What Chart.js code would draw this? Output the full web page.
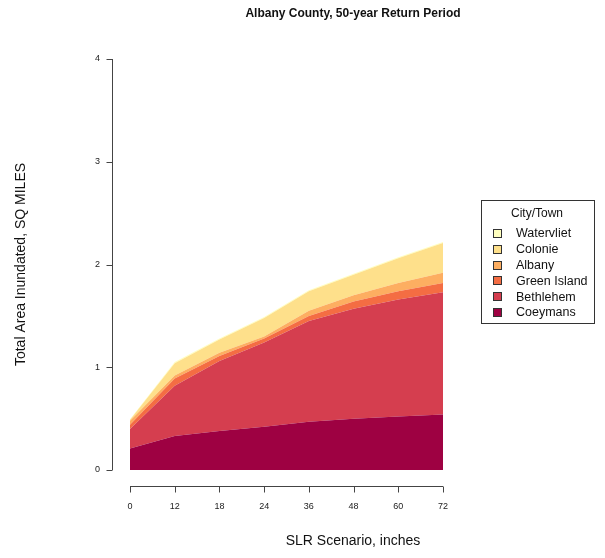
<!DOCTYPE html>
<html>
<head>
<meta charset="utf-8">
<script src="https://cdn.jsdelivr.net/npm/chart.js@4.4.1/dist/chart.umd.min.js"></script>
<style>
  html, body { margin: 0; padding: 0; background: #fff; }
  canvas { display: block; }
</style>
</head>
<body>
<canvas id="inundation" width="605" height="558"></canvas>
<script>
// SLR scenarios (inches) and inundated area per town, sq miles (stacked)
const scenarios = ['0', '12', '18', '24', '36', '48', '60', '72'];
const coeymans    = [0.21, 0.33, 0.38, 0.42, 0.47, 0.50, 0.52, 0.54];
const bethlehem   = [0.19, 0.49, 0.68, 0.82, 0.98, 1.07, 1.14, 1.19];
const greenIsland = [0.04, 0.07, 0.05, 0.04, 0.05, 0.07, 0.08, 0.09];
const albany      = [0.04, 0.03, 0.03, 0.02, 0.05, 0.06, 0.08, 0.10];
const colonie     = [0.01, 0.12, 0.13, 0.18, 0.19, 0.20, 0.24, 0.29];
const watervliet  = [0.005, 0.01, 0.01, 0.01, 0.01, 0.01, 0.01, 0.01];
const yTicks = [0, 1, 2, 3, 4];

const FONT = "'Liberation Sans', Arial, Helvetica, sans-serif";

function area(label, data, color, fill) {
  return {
    label: label,
    data: data,
    backgroundColor: color,
    borderColor: color,
    borderWidth: 0,
    pointRadius: 0,
    tension: 0,
    fill: fill
  };
}

// R-style detached axes drawn from the chart's own scales
const detachedAxes = {
  id: 'detachedAxes',
  afterDraw(chart) {
    const ctx = chart.ctx;
    const xs = chart.scales.x, ys = chart.scales.y;
    ctx.save();
    ctx.strokeStyle = '#444';
    ctx.lineWidth = 1;

    // y axis
    const ax = chart.chartArea.left - 17.5;
    ctx.beginPath();
    ctx.moveTo(ax, ys.getPixelForValue(yTicks[0]));
    ctx.lineTo(ax, ys.getPixelForValue(yTicks[yTicks.length - 1]));
    yTicks.forEach(v => {
      const py = Math.round(ys.getPixelForValue(v)) + 0.5;
      ctx.moveTo(ax, py);
      ctx.lineTo(ax - 6, py);
    });
    ctx.stroke();

    // x axis
    const ay = chart.chartArea.bottom + 16.5;
    ctx.beginPath();
    ctx.moveTo(xs.getPixelForValue(0), ay);
    ctx.lineTo(xs.getPixelForValue(scenarios.length - 1), ay);
    scenarios.forEach((s, i) => {
      const px = Math.round(xs.getPixelForValue(i)) + 0.5;
      ctx.moveTo(px, ay);
      ctx.lineTo(px, ay + 6);
    });
    ctx.stroke();

    // titles
    ctx.fillStyle = '#111';
    ctx.textAlign = 'center';
    ctx.textBaseline = 'middle';
    ctx.font = 'bold 12px ' + FONT;
    ctx.fillText('Albany County, 50-year Return Period', 353, 14);
    ctx.font = '14px ' + FONT;
    ctx.fillText('SLR Scenario, inches', 353, 541);
    ctx.restore();
  }
};

// boxed legend, top layer first
const boxLegend = {
  id: 'boxLegend',
  afterDraw(chart) {
    const ctx = chart.ctx;
    const x = 481.5, y = 200.5, w = 113, h = 123;
    ctx.save();
    ctx.strokeStyle = '#333';
    ctx.lineWidth = 1;
    ctx.strokeRect(x, y, w, h);

    ctx.fillStyle = '#111';
    ctx.font = '12px ' + FONT;
    ctx.textAlign = 'center';
    ctx.textBaseline = 'middle';
    ctx.fillText('City/Town', 537, 214);

    ctx.textAlign = 'left';
    ctx.font = '12.5px ' + FONT;
    const items = chart.data.datasets.slice().reverse();
    items.forEach((ds, i) => {
      const cy = 234 + i * 15.8;
      ctx.fillStyle = ds.backgroundColor;
      ctx.fillRect(493.5, Math.round(cy) - 4.5, 8, 8);
      ctx.strokeStyle = '#333';
      ctx.strokeRect(493.5, Math.round(cy) - 4.5, 8, 8);
      ctx.fillStyle = '#111';
      ctx.fillText(ds.label, 516, cy);
    });
    ctx.restore();
  }
};

new Chart(document.getElementById('inundation'), {
  type: 'line',
  data: {
    labels: scenarios,
    datasets: [
      area('Coeymans', coeymans, '#9E0142', 'origin'),
      area('Bethlehem', bethlehem, '#D53E4F', '-1'),
      area('Green Island', greenIsland, '#F46D43', '-1'),
      area('Albany', albany, '#FDAE61', '-1'),
      area('Colonie', colonie, '#FEE08B', '-1'),
      area('Watervliet', watervliet, '#FFFFBF', '-1')
    ]
  },
  options: {
    responsive: false,
    animation: false,
    layout: { padding: { top: 59, right: 162, bottom: 0, left: 0 } },
    plugins: {
      legend: { display: false },
      tooltip: { enabled: false },
      title: { display: false }
    },
    elements: { line: { borderWidth: 0 } },
    scales: {
      x: {
        type: 'category',
        offset: false,
        grid: { display: false, drawTicks: false },
        border: { display: false },
        ticks: {
          padding: 31,
          maxRotation: 0,
          autoSkip: false,
          color: '#222',
          font: { family: FONT, size: 9 }
        },
        afterFit(scale) { scale.height = 88; }
      },
      y: {
        stacked: true,
        min: 0,
        max: 4,
        grid: { display: false, drawTicks: false },
        border: { display: false },
        ticks: {
          stepSize: 1,
          padding: 30,
          color: '#222',
          font: { family: FONT, size: 9 }
        },
        title: {
          display: true,
          text: 'Total Area Inundated, SQ MILES',
          color: '#111',
          padding: { top: 13, bottom: 0 },
          font: { family: FONT, size: 14 }
        },
        afterFit(scale) { scale.width = 130; }
      }
    }
  },
  plugins: [detachedAxes, boxLegend]
});
</script>
</body>
</html>
